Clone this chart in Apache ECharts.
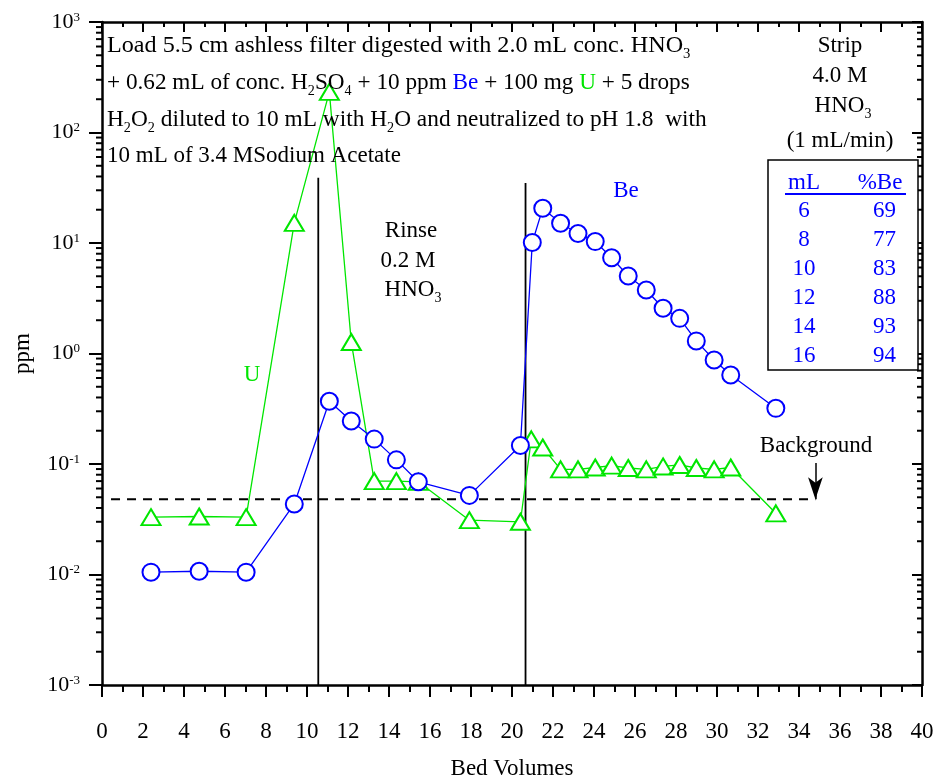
<!DOCTYPE html>
<html>
<head>
<meta charset="utf-8">
<script src="https://cdn.jsdelivr.net/npm/echarts@6/dist/echarts.min.js"></script>
<style>html,body{margin:0;padding:0;background:#fff}#c{width:939px;height:780px}</style>
</head>
<body>
<div id="c"></div>
<script>
// ---- data ----
const beX = [2.39,4.74,7.03,9.38,11.09,12.16,13.28,14.36,15.43,17.92,20.41,20.99,21.5,22.37,23.22,24.06,24.86,25.67,26.55,27.37,28.18,28.99,29.86,30.67,32.87];
const beY = [0.0105,0.0107,0.0105,0.0435,0.37,0.245,0.168,0.109,0.069,0.052,0.147,10.1,20.6,15.1,12.2,10.3,7.36,5.03,3.76,2.57,2.08,1.30,0.873,0.638,0.319];
const uX = [2.39,4.74,7.03,9.38,11.09,12.16,13.28,14.36,15.43,17.92,20.41,20.94,21.5,22.37,23.22,24.06,24.86,25.67,26.55,27.37,28.18,28.99,29.86,30.67,32.87];
const uY = [0.033,0.0335,0.033,15.2,233,1.27,0.070,0.070,0.069,0.031,0.030,0.167,0.141,0.0895,0.0895,0.093,0.0966,0.092,0.0895,0.095,0.098,0.092,0.0895,0.093,0.0358];
const rinseX = 10.55, rinseTop = 39;
const stripX = 20.66, stripTop = 35;
const background = 0.048;
const bgStart = 0.44, bgEnd = 34.8;
const arrowX = 34.8, arrowTop = 0.102;
const tableML = [6,8,10,12,14,16];
const tablePct = [69,77,83,88,93,94];
const xMin = 0, xMax = 40;

const FONT = 'Liberation Serif';
const BLUE = '#0000ff', GREEN = '#00e600';
const FS = 23;

// minor log ticks 2..9 x 10^e
const minorVals = [];
for (let e = -3; e < 3; e++) for (let k = 2; k <= 9; k++) minorVals.push(Number((k * Math.pow(10, e)).toPrecision(6)));

const zip = (a, b) => a.map((v, i) => [v, b[i]]);

const rich = {
  n: {fontSize: FS, fontFamily: FONT, fill: '#000', lineHeight: 30, verticalAlign: 'middle'},
  s: {fontSize: 14, fontFamily: FONT, fill: '#000', lineHeight: 10, verticalAlign: 'bottom'},
  b: {fontSize: FS, fontFamily: FONT, fill: BLUE, lineHeight: 30, verticalAlign: 'middle'},
  g: {fontSize: FS, fontFamily: FONT, fill: GREEN, lineHeight: 30, verticalAlign: 'middle'}
};
function T(x, y, text, align, sx) {
  return {type: 'text', x: x, y: y, z: 100, scaleX: sx || 1, style: {
    text: text, rich: rich, align: align || 'left', verticalAlign: 'middle',
    font: FS + 'px ' + FONT, fill: '#000'
  }};
}

const graphics = [
  T(107, 46, '{n|Load 5.5 cm ashless filter digested with 2.0 mL conc. HNO}{s|3}', 'left', 1.05),
  T(107, 83, '{n|+ 0.62 mL of conc. H}{s|2}{n|SO}{s|4}{n| + 10 ppm }{b|Be}{n| + 100 mg }{g|U}{n| + 5 drops}', 'left', 1.01),
  T(107, 120, '{n|H}{s|2}{n|O}{s|2}{n| diluted to 10 mL with H}{s|2}{n|O and neutralized to pH 1.8  with}', 'left', 1.015),
  T(107, 156, '{n|10 mL of 3.4 MSodium Acetate}'),
  T(411, 231, '{n|Rinse}', 'center'),
  T(408, 261, '{n|0.2 M}', 'center'),
  T(413, 290, '{n|HNO}{s|3}', 'center'),
  T(252, 375, '{g|U}', 'center'),
  T(626, 191, '{b|Be}', 'center'),
  T(840, 46, '{n|Strip}', 'center'),
  T(840, 76, '{n|4.0 M}', 'center'),
  T(843, 106, '{n|HNO}{s|3}', 'center'),
  T(840, 141, '{n|(1 mL/min)}', 'center'),
  T(816, 446, '{n|Background}', 'center'),
  {type: 'rect', z: 90, shape: {x: 768, y: 160, width: 150, height: 210}, style: {fill: '#fff', stroke: '#000', lineWidth: 1.5}},
  T(804, 183, '{b|mL}', 'center'),
  T(880, 183, '{b|%Be}', 'center'),
  {type: 'line', z: 100, shape: {x1: 785, y1: 194, x2: 906, y2: 194}, style: {stroke: BLUE, lineWidth: 2}}
];
tableML.forEach((m, i) => {
  graphics.push(T(804, 211 + i * 29, '{b|' + m + '}', 'center'));
  graphics.push(T(896, 211 + i * 29, '{b|' + tablePct[i] + '}', 'right'));
});

const axisLineStyle = {color: '#000', width: 2.5};
const tickStyle = {width: 2, color: '#000'};
const option = {
  animation: false,
  backgroundColor: '#fff',
  grid: {left: 102, right: 17, top: 22, bottom: 95, outerBoundsMode: 'none', containLabel: false},
  xAxis: [
    {type: 'value', min: xMin, max: xMax, interval: 2, position: 'bottom',
     name: 'Bed Volumes', nameLocation: 'middle', nameGap: 72,
     nameTextStyle: {fontFamily: FONT, fontSize: FS, color: '#000'},
     axisLine: {show: true, onZero: false, lineStyle: axisLineStyle},
     axisTick: {show: true, inside: false, length: 12, lineStyle: tickStyle},
     minorTick: {show: true, splitNumber: 2, length: 7, lineStyle: tickStyle},
     axisLabel: {margin: 35, fontFamily: FONT, fontSize: FS, color: '#000'},
     splitLine: {show: false}},
    {type: 'value', min: xMin, max: xMax, interval: 2, position: 'top',
     axisLine: {show: true, onZero: false, lineStyle: axisLineStyle},
     axisTick: {show: true, inside: true, length: 10, lineStyle: tickStyle},
     minorTick: {show: true, splitNumber: 2, length: 5, lineStyle: tickStyle},
     axisLabel: {show: false}, splitLine: {show: false}}
  ],
  yAxis: [
    {type: 'log', logBase: 10, min: 0.001, max: 1000, position: 'left',
     name: 'ppm', nameLocation: 'middle', nameGap: 68,
     nameTextStyle: {fontFamily: FONT, fontSize: FS, color: '#000'},
     axisLine: {show: true, onZero: false, lineStyle: axisLineStyle},
     axisTick: {show: true, inside: false, length: 13, lineStyle: tickStyle},
     axisLabel: {margin: 22, formatter: v => '{b|10}{sup|' + Math.round(Math.log10(v)) + '}',
       rich: {b: {fontFamily: FONT, fontSize: 22, color: '#000', verticalAlign: 'middle', lineHeight: 22},
              sup: {fontFamily: FONT, fontSize: 13, color: '#000', verticalAlign: 'top', lineHeight: 14}}},
     splitLine: {show: false}},
    {type: 'log', logBase: 10, min: 0.001, max: 1000, position: 'right',
     axisLine: {show: true, onZero: false, lineStyle: axisLineStyle},
     axisTick: {show: true, inside: true, length: 10, lineStyle: tickStyle},
     axisLabel: {show: false}, splitLine: {show: false}}
  ],
  series: [
    {type: 'custom', name: 'minorTicks', data: minorVals.map(v => [v]), clip: false, silent: true, z: 5,
     renderItem: function (params, api) {
       const v = api.value(0);
       const pl = api.coord([xMin, v]);
       const pr = api.coord([xMax, v]);
       return {type: 'group', children: [
         {type: 'line', shape: {x1: pl[0] - 6, y1: pl[1], x2: pl[0], y2: pl[1]}, style: {stroke: '#000', lineWidth: 2}},
         {type: 'line', shape: {x1: pr[0] - 5, y1: pr[1], x2: pr[0], y2: pr[1]}, style: {stroke: '#000', lineWidth: 2}}
       ]};
     }},
    {type: 'line', name: 'rinse', data: [[rinseX, 0.001], [rinseX, rinseTop]], symbol: 'none',
     lineStyle: {color: '#000', width: 1.8}, z: 1},
    {type: 'line', name: 'strip', data: [[stripX, 0.001], [stripX, stripTop]], symbol: 'none',
     lineStyle: {color: '#000', width: 1.8}, z: 1},
    {type: 'line', name: 'background', data: [[bgStart, background], [bgEnd, background]], symbol: 'none',
     lineStyle: {color: '#000', width: 2, type: [9, 7]}, z: 1,
     markLine: {silent: true, symbol: ['none', 'arrow'], symbolSize: [11, 22], label: {show: false},
       lineStyle: {color: '#000', width: 1.5, type: 'solid'},
       data: [[{coord: [arrowX, arrowTop]}, {coord: [arrowX, background]}]]}},
    {type: 'line', name: 'U', data: zip(uX, uY), symbol: 'emptyTriangle', symbolSize: [19, 16],
     lineStyle: {color: GREEN, width: 1.3}, itemStyle: {color: GREEN, borderWidth: 1.5}, z: 3},
    {type: 'line', name: 'Be', data: zip(beX, beY), symbol: 'emptyCircle', symbolSize: 17,
     lineStyle: {color: BLUE, width: 1.3}, itemStyle: {color: BLUE, borderWidth: 1.5}, z: 4}
  ],
  graphic: graphics
};
const chart = echarts.init(document.getElementById('c'), null, {renderer: 'canvas'});
chart.setOption(option);
</script>
</body>
</html>
